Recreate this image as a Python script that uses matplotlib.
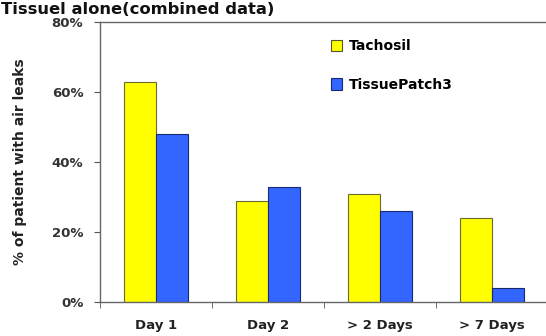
import matplotlib
matplotlib.use("Agg")
import matplotlib.pyplot as plt
import numpy as np
from matplotlib.patches import Patch

categories = ["Day 1", "Day 2", "> 2 Days", "> 7 Days"]
tachosil = [63, 29, 31, 24]
tissuepatch = [48, 33, 26, 4]
series_names = ["Tachosil", "TissuePatch3"]
yticks = [0, 20, 40, 60, 80]
ytick_labels = ["0%", "20%", "40%", "60%", "80%"]
title = "Tissuel alone(combined data)"

W, H = 546, 336
fig = plt.figure(figsize=(W / 100, H / 100), dpi=100)
left, right, bottom, top = 100, 548, 302, 22
ax = fig.add_axes([left / W, 1 - bottom / H, (right - left) / W, (bottom - top) / H])

x = np.arange(len(categories))
bw = 0.29
ax.bar(x - bw / 2, tachosil, bw, color="#FFFF00", edgecolor="#6b6b30", linewidth=0.8, label=series_names[0])
ax.bar(x + bw / 2, tissuepatch, bw, color="#3366FF", edgecolor="#1a2a70", linewidth=0.8, label=series_names[1])

ax.set_xlim(-0.5, len(categories) - 0.5)
ax.set_ylim(0, 80)
ax.set_yticks(yticks)
ax.set_yticklabels(ytick_labels, fontsize=9.5, fontweight="bold", color="#333333")
ax.set_xticks(x)
ax.set_xticklabels(categories, fontsize=9.5, fontweight="bold", color="#222222")
ax.tick_params(axis="x", length=0, pad=12)
ax.set_xticks(np.arange(-0.5, len(categories), 1), minor=True)
ax.tick_params(axis="x", which="minor", length=4, color="#555555", direction="out")
ax.tick_params(axis="y", length=4, color="#555555", direction="out", pad=8)
for s in ["left", "bottom", "top"]:
    ax.spines[s].set_color("#666666")
    ax.spines[s].set_linewidth(1.0)
ax.spines["right"].set_visible(False)

ax.set_ylabel("% of patient with air leaks", fontsize=10, fontweight="bold", color="#222222", labelpad=18)

handles = [Patch(facecolor="#FFFF00", edgecolor="#555530", linewidth=0.8),
           Patch(facecolor="#3366FF", edgecolor="#1a2a70", linewidth=0.8)]
leg = fig.legend(handles, series_names, loc="upper left",
                 bbox_to_anchor=(318 / W, 1 - 27 / H), frameon=False,
                 handlelength=0.85, handleheight=0.85, handletextpad=0.45,
                 labelspacing=1.75, prop={"weight": "bold", "size": 10})

# Fit the title into the strip above the top tick label
fig.canvas.draw()
renderer = fig.canvas.get_renderer()
top_label = ax.get_yticklabels()[-1]
lab_top = top_label.get_window_extent(renderer).y1  # in display px from bottom
avail_bottom = lab_top + 0.5
t = fig.text(1 / W, 0, title, fontsize=14, fontweight="bold",
             va="bottom", ha="left", color="#111111")
fs = 14.0
while fs > 8:
    t.set_fontsize(fs)
    t.set_y(avail_bottom / H)
    bb = t.get_window_extent(renderer)
    if bb.y1 <= H - 0.2:
        break
    fs -= 0.25

fig.savefig("out.png", dpi=100)
